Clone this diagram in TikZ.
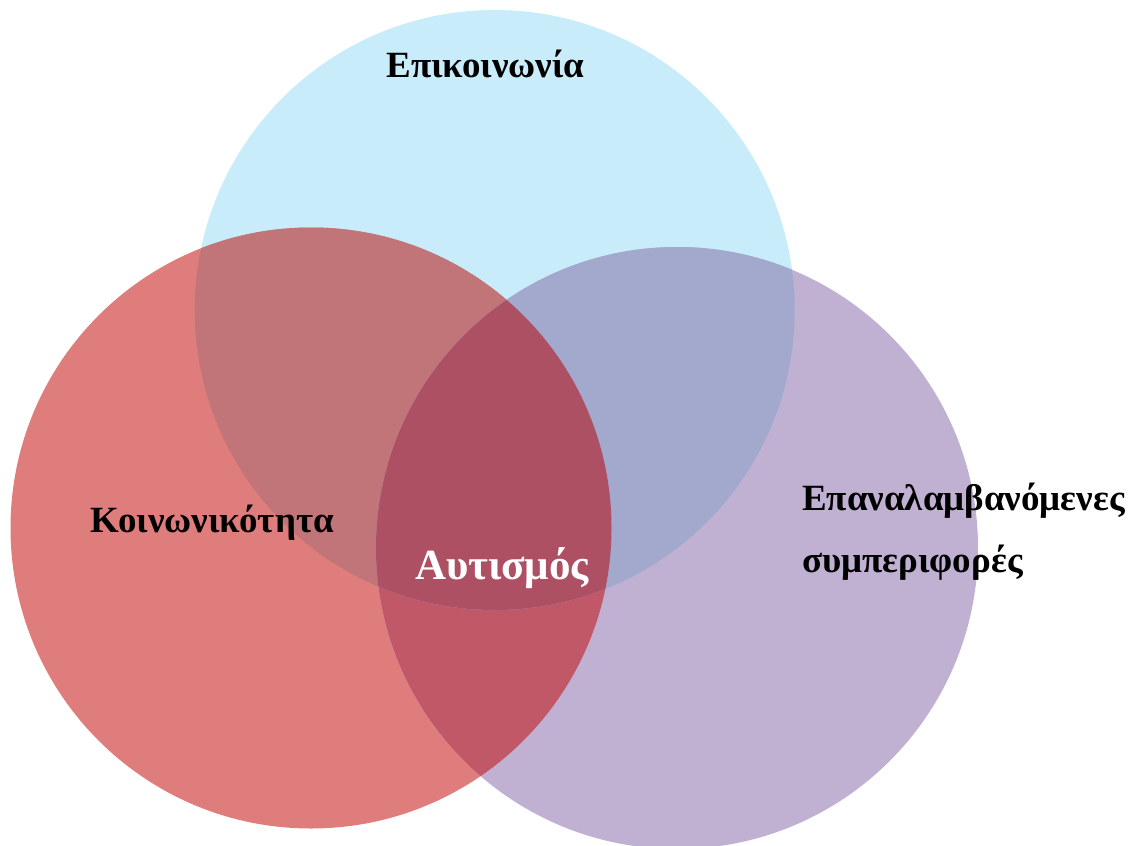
\documentclass[tikz,border=0pt]{standalone}
\usepackage{fontspec}
\setmainfont{Liberation Serif}
\definecolor{cBlue}{HTML}{C8ECFA}
\definecolor{cRed}{HTML}{DF7D7D}
\definecolor{cPurple}{HTML}{C0B1D2}
\definecolor{cBR}{HTML}{C27579}
\definecolor{cBP}{HTML}{A3A8CD}
\definecolor{cRP}{HTML}{C15868}
\definecolor{cBRP}{HTML}{AE5064}
\tikzset{
  lbl/.style={font=\fontsize{37}{44}\selectfont\bfseries, inner sep=0pt, text=black},
  biglbl/.style={font=\fontsize{43}{50}\selectfont\bfseries, inner sep=0pt, text=white}
}
\begin{document}
\begin{tikzpicture}[x=1pt,y=-1pt]
\useasboundingbox (0,0) rectangle (1141,846);
\coordinate (cb) at (494.7,310);
\coordinate (cr) at (311,528);
\coordinate (cp) at (677,548);
\def\rb{300pt}\def\rr{300.5pt}\def\rp{301pt}
\fill[cBlue] (cb) circle[radius=\rb];
\fill[cRed] (cr) circle[radius=\rr];
\fill[cPurple] (cp) circle[radius=\rp];
\begin{scope}
  \clip (cr) circle[radius=\rr];
  \fill[cBR] (cb) circle[radius=\rb];
  \fill[cRP] (cp) circle[radius=\rp];
\end{scope}
\begin{scope}
  \clip (cb) circle[radius=\rb];
  \fill[cBP] (cp) circle[radius=\rp];
  \clip (cr) circle[radius=\rr];
  \fill[cBRP] (cp) circle[radius=\rp];
\end{scope}
\node[lbl, anchor=base] (comm) at (485.5,77) {Επικοινωνία};
\node[lbl, anchor=base] (soc) at (212,532) {Κοινωνικότητα};
\node[biglbl, anchor=base] (aut) at (502,579) {Αυτισμός};
\node[lbl, anchor=base west] (rep1) at (802,510) {Επαναλαμβανόμενες};
\node[lbl, anchor=base west] (rep2) at (802,572) {συμπεριφορές};
\end{tikzpicture}
\end{document}
